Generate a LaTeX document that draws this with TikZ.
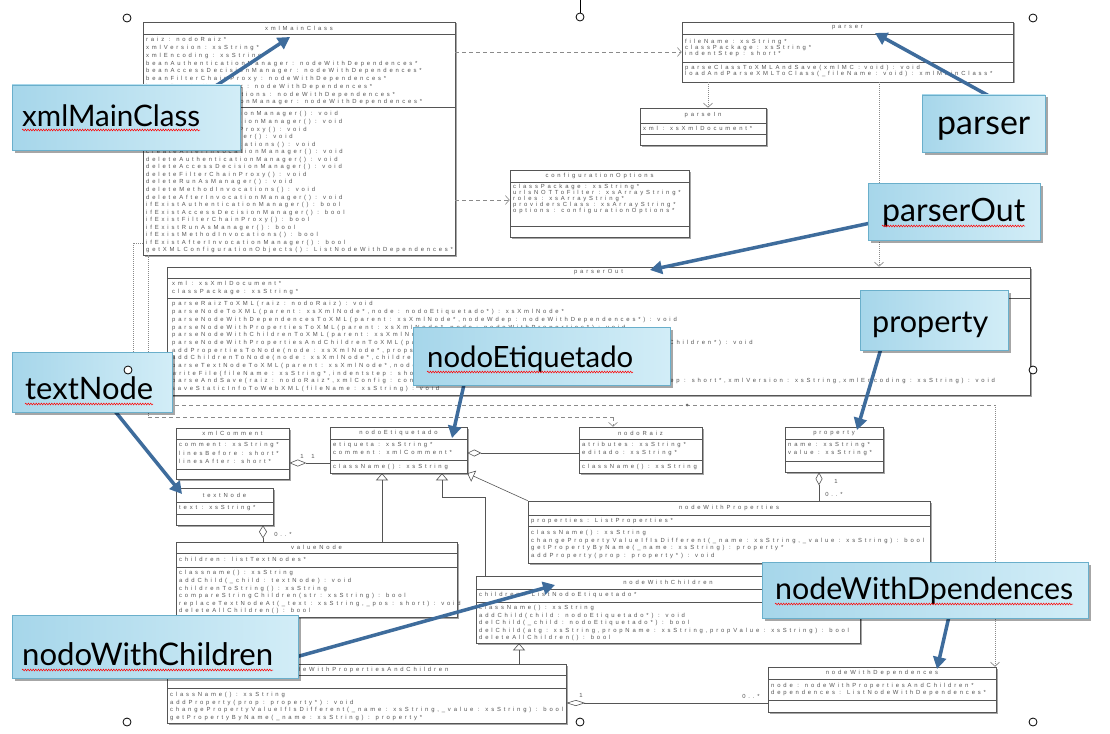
\documentclass[tikz,border=0pt]{standalone}
\usepackage{fontspec}
\usepackage{graphicx}
\newfontfamily\umlfamily[LetterSpace=48]{Liberation Sans}
\newfontfamily\callfamily{Lato}
\usetikzlibrary{arrows.meta,fit,shadows,decorations.pathmorphing,calc}
\definecolor{umlline}{HTML}{555555}
\definecolor{umltext}{HTML}{555555}
\definecolor{dep}{HTML}{8A8A8A}
\definecolor{callL}{HTML}{A6D6EA}
\definecolor{callR}{HTML}{D2EDF7}
\definecolor{callB}{HTML}{6AAFCB}
\definecolor{arr}{HTML}{3E6C9C}
\newcommand{\umlf}[1]{\umlfamily\fontsize{5.9}{#1}\selectfont}
% #1 name, #2 x1, #3 y1, #4 x2, #5 y2, #6 title, #7 title line y, #8 separator y
\newcommand{\umlclass}[8]{%
  \fill[clsshadow] (#2+1.5,#3+1.5) rectangle (#4+1.5,#5+1.5);
  \node[clsbox, fit={(#2,#3) (#4,#5)}] (#1) {};
  \draw[sepline] (#2,#7) -- (#4,#7);
  \draw[sepline] (#2,#8) -- (#4,#8);
  \node[ttl] at ({(#2+#4)/2},{(#3+#7)/2}) {#6};
}
\begin{document}
\begin{tikzpicture}[x=1pt,y=-1pt,
  clsbox/.style={draw=umlline, line width=0.6pt, inner sep=0pt, fill=white},
  clsshadow/.style={fill=black!35},
  sepline/.style={draw=umlline, line width=0.5pt},
  ttl/.style={font=\umlf{7}, text=umltext, inner sep=0pt},
  mem/.style={font=\umlf{7.5}, text=umltext, inner sep=0pt, align=left, anchor=north west},
  lab/.style={font=\umlf{6}, text=umltext, inner sep=0pt},
  deparrow/.style={draw=dep, line width=0.6pt, dash pattern=on 4pt off 3pt, -{Straight Barb[length=4pt,width=9pt]}},
  dashln/.style={draw=dep, line width=0.6pt, dash pattern=on 4pt off 3pt},
  dotln/.style={draw=dep, line width=0.7pt, dash pattern=on 1pt off 1pt},
  dotarrow/.style={dotln, -{Straight Barb[length=4pt,width=9pt]}},
  assoc/.style={draw=umlline, line width=0.6pt},
  gen/.style={draw=umlline, line width=0.6pt, -{Triangle[open,length=7pt,width=12pt]}},
  calarrow/.style={draw=arr, line width=3.5pt, -{Triangle[length=12pt,width=13pt]}},
  callout/.style={draw=callB, line width=0.6pt, left color=callL, right color=callR, inner sep=0pt,
    drop shadow={shadow xshift=2.5pt, shadow yshift=-2.5pt, opacity=0.35, fill=black}},
  calltext/.style={font=\callfamily, text=black, inner sep=0pt, anchor=base west},
  squig/.style={draw=red, line width=0.5pt, decorate, decoration={snake, amplitude=0.9pt, segment length=2.6pt}},
  handle/.style={draw=black, fill=white, line width=0.8pt}
]
\useasboundingbox (0,0) rectangle (1110,733);
\fill[white] (0,0) rectangle (1110,733);

% ---------------- classes ----------------
\umlclass{xmlmain}{143}{22}{455}{255}{xmlMainClass}{34}{107}
\node[mem, font=\umlf{7.75}] at (146,37.5) {raiz : nodoRaiz*\\xmlVersion : xsString*\\xmlEncoding : xsString*\\beanAuthenticationManager : nodeWithDependences*\\beanAccessDecisionManager : nodeWithDependences*\\beanFilterChainProxy : nodeWithDependences*\\beanRunAsManager : nodeWithDependences*\\beanMethodInvocations : nodeWithDependences*\\beanAfterInvocationManager : nodeWithDependences*};
\node[mem, font=\umlf{7.55}] at (146,111.5) {createAuthenticationManager() : void\\createAccessDecisionManager() : void\\createFilterChainProxy() : void\\createRunAsManager() : void\\createMethodInvocations() : void\\createAfterInvocationManager() : void\\deleteAuthenticationManager() : void\\deleteAccessDecisionManager() : void\\deleteFilterChainProxy() : void\\deleteRunAsManager() : void\\deleteMethodInvocations() : void\\deleteAfterInvocationManager() : void\\ifExistAuthenticationManager() : bool\\ifExistAccessDecisionManager() : bool\\ifExistFilterChainProxy() : bool\\ifExistRunAsManager() : bool\\ifExistMethodInvocations() : bool\\ifExistAfterInvocationManager() : bool\\getXMLConfigurationObjects() : ListNodeWithDependences*};

\umlclass{parser}{682}{22}{1013}{82}{parser}{34}{62}
\node[mem, font=\umlf{6}] at (685,39.2) {fileName : xsString*\\classPackage : xsString*\\indentStep : short*};
\node[mem, font=\umlf{6}] at (685,65.5) {parseClassToXMLAndSave(xmlMC : void) : void\\loadAndParseXMLToClass(\_fileName : void) : xmlMainClass*};

\umlclass{parsein}{640}{108}{766}{145}{parseIn}{123}{134}
\node[mem] at (643,126) {xml : xsXmlDocument*};

\umlclass{confopt}{510}{170}{689}{237}{configurationOptions}{182}{226}
\node[mem, font=\umlf{5.8}] at (513,184.5) {classPackage : xsString*\\urlsNOTToFilter : xsArrayString*\\roles : xsArrayString*\\providersClass : xsArrayString*\\options : configurationOptions*};

\umlclass{parserout}{167}{267}{1030}{395}{parserOut}{278}{298}
\node[mem, font=\umlf{7.8}] at (172,281.5) {xml : xsXmlDocument*\\classPackage : xsString*};
\begin{scope}
\clip (168,298) rectangle (1029,394);
\node[mem, font=\umlf{7.7}] at (172,301.5) {parseRaizToXML(raiz : nodoRaiz) : void\\parseNodeToXML(parent : xsXmlNode*,node : nodoEtiquetado*) : xsXmlNode*\\parseNodeWithDependencesToXML(parent : xsXmlNode*,nodeWdep : nodeWithDependences*) : void\\parseNodeWithPropertiesToXML(parent : xsXmlNode*,node : nodeWithProperties*) : void\\parseNodeWithChildrenToXML(parent : xsXmlNode*,node : nodeWithChildren*) : void\\parseNodeWithPropertiesAndChildrenToXML(parent : xsXmlNode*,node : nodeWithPropertiesAndChildren*) : void\\addPropertiesToNode(node : xsXmlNode*,props : ListProperties*) : void\\addChildrenToNode(node : xsXmlNode*,children : ListNodoEtiquetado*) : void\\parseTextNodeToXML(parent : xsXmlNode*,node : textNode*) : void\\writeFile(fileName : xsString*,indentstep : short*) : void\\parseAndSave(raiz : nodoRaiz*,xmlConfig : configurationOptions*,fileName : xsString*,indentstep : short*,xmlVersion : xsString,xmlEncoding : xsString) : void\\saveStaticInfoToWebXML(fileName : xsString) : void};
\end{scope}

\umlclass{xmlcomment}{176}{428}{289}{479}{xmlComment}{439}{469}
\node[mem, font=\umlf{8.3}] at (179,442.5) {comment : xsString*\\linesBefore : short*\\linesAfter : short*};

\umlclass{textnode}{176}{488}{273}{525}{textNode}{502}{514}
\node[mem] at (179,505.5) {text : xsString*};

\umlclass{nodoetiq}{330}{427}{467}{473}{nodoEtiquetado}{439}{460}
\node[mem, font=\umlf{8}] at (333,442.5) {etiqueta : xsString*\\comment : xmlComment*};
\node[mem] at (333,464.5) {className() : xsString};

\umlclass{valuenode}{176}{542}{457}{617}{valueNode}{553}{567}
\node[mem] at (179,557.5) {children : listTextNodes*};
\node[mem, font=\umlf{7.6}] at (179,570.5) {classname() : xsString\\addChild(\_child : textNode) : void\\childrenToString() : xsString\\compareStringChildren(str : xsString) : bool\\replaceTextNodeAt(\_text : xsString,\_pos : short) : void\\deleteAllChildren() : bool};

\umlclass{nodoraiz}{579}{427}{702}{473}{nodoRaiz}{439}{460}
\node[mem, font=\umlf{8}] at (582,442.5) {atributes : xsString*\\editado : xsString*};
\node[mem] at (582,464.5) {className() : xsString};

\umlclass{property}{785}{427}{883}{472}{property}{439}{461}
\node[mem, font=\umlf{8}] at (788,442.5) {name : xsString*\\value : xsString*};

\umlclass{nodewprop}{528}{501}{930}{563}{nodeWithProperties}{515}{526}
\node[mem] at (531,518.5) {properties : ListProperties*};
\node[mem, font=\umlf{7.4}] at (531,530.5) {className() : xsString\\changePropertyValueIfIsDifferent(\_name : xsString,\_value : xsString) : bool\\getPropertyByName(\_name : xsString) : property*\\addProperty(prop : property*) : void};

\umlclass{nodewchild}{476}{576}{860}{643}{nodeWithChildren}{589}{602}
\node[mem] at (479,592.5) {children : ListNodoEtiquetado*};
\node[mem, font=\umlf{7.5}] at (479,605.5) {className() : xsString\\addChild(child : nodoEtiquetado*) : void\\delChild(\_child : nodoEtiquetado*) : bool\\delChild(atg : xsString,propName : xsString,propValue : xsString) : bool\\deleteAllChildren() : bool};

\umlclass{nodewpac}{167}{664}{566}{723}{nodeWithPropertiesAndChildren}{675}{688}
\node[mem, font=\umlf{7.4}] at (170,692.5) {className() : xsString\\addProperty(prop : property*) : void\\changePropertyValueIfIsDifferent(\_name : xsString,\_value : xsString) : bool\\getPropertyByName(\_name : xsString) : property*};

\umlclass{nodewdep}{768}{667}{996}{712}{nodeWithDependences}{679}{700}
\node[mem, font=\umlf{7}] at (771,683.5) {node : nodeWithPropertiesAndChildren*\\dependences : ListNodeWithDependences*};

% ---------------- UML connectors ----------------
\draw[deparrow] (xmlmain.east |- 0,52) -- (parser.west |- 0,52);
\draw[deparrow] (xmlmain.east |- 0,200) -- (confopt.west |- 0,200);
\draw[dotarrow] (parser.south -| 708,0) -- (parsein.north -| 708,0);
\draw[dotarrow] (parser.south -| 879,0) -- (parserout.north -| 879,0);

\coordinate (la) at (133,243);
\coordinate (lb) at (133,405);
\coordinate (lc) at (995,405);
\draw[dotln] (xmlmain.west |- la) -- (la) -- (lb);
\draw[dashln] (lb) -- (lc);
\draw[dotarrow] (lc) -- (nodewdep.north -| lc);
\fill[dep!80!black] (687,405) circle (1.5pt);

\coordinate (ld) at (148,417);
\coordinate (le) at (613,417);
\draw[dotln] (xmlmain.south -| ld) -- (ld);
\draw[dashln] (ld) -- (le);
\draw[deparrow] (le) -- (nodoraiz.north -| le);

\draw[assoc, {Diamond[open,length=17pt,width=7pt]}-] (xmlcomment.east |- 0,463) -- (nodoetiq.west |- 0,463);
\node[lab] at (302,456) {1};
\node[lab] at (313,456) {1};
\draw[assoc, {Diamond[open,length=14pt,width=7pt]}-] (nodoetiq.east |- 0,453) -- (nodoraiz.west |- 0,453);
\draw[gen] (valuenode.north -| 382,0) -- (nodoetiq.south -| 382,0);
\coordinate (g1) at (485,497);
\coordinate (g2) at (442,497);
\draw[gen] (nodewchild.north -| g1) -- (g1) -- (g2) -- (nodoetiq.south -| g2);
\draw[gen] (nodewprop.north west) -- (nodoetiq.south east);
\draw[assoc, {Diamond[open,length=13pt,width=7pt]}-] (property.south -| 819,0) -- (nodewprop.north -| 819,0);
\node[lab] at (836,481) {1};
\node[lab] at (834,494) {0..*};
\draw[assoc, {Diamond[open,length=13pt,width=8pt]}-] (textnode.south -| 263,0) -- (valuenode.north -| 263,0);
\node[lab] at (283,534) {0..*};
\draw[gen] (nodewpac.north -| 519,0) -- (nodewchild.south -| 519,0);
\draw[assoc, {Diamond[open,length=19pt,width=6pt]}-] (nodewpac.east |- 0,703) -- (nodewdep.west |- 0,703);
\node[lab] at (581,695) {1};
\node[lab] at (751,696) {0..*};

% ---------------- callout arrows ----------------
\coordinate (t1) at (205,93);   \coordinate (h1) at (290,37);
\coordinate (t2) at (1000,102); \coordinate (h2) at (875,33);
\coordinate (t3) at (880,221);  \coordinate (h3) at (650,270);
\coordinate (t4) at (882,345);  \coordinate (h4) at (857,430);
\coordinate (t5) at (465,380);  \coordinate (h5) at (452,438);
\coordinate (t6) at (110,405);  \coordinate (h6) at (182,494);
\coordinate (t7) at (285,660);  \coordinate (h7) at (555,585);
\coordinate (t8) at (950,612);  \coordinate (h8) at (937,669);
\foreach \i in {1,...,8} \draw[calarrow] (t\i) -- (h\i);

% ---------------- callouts ----------------
\node[callout, fit={(12,85) (240,150)}] (cxml) {};
\node[calltext] at (22,126) {\resizebox{178pt}{!}{xmlMainClass}};
\draw[squig] (22,130) -- (200,130);

\node[callout, fit={(922,95) (1045,152)}] (cparser) {};
\node[calltext] at (937,135) {\resizebox{93pt}{!}{parser}};

\node[callout, fit={(868,183) (1040,240)}] (cparserout) {};
\node[calltext] at (882,221) {\resizebox{143pt}{!}{parserOut}};
\draw[squig] (882,226) -- (1025,226);

\node[callout, fit={(860,290) (1008,350)}] (cproperty) {};
\node[calltext] at (872,332) {\resizebox{116pt}{!}{property}};

\node[callout, fit={(413,327) (670,385)}] (cnodoetiq) {};
\node[calltext] at (427,367) {\resizebox{206pt}{!}{nodoEtiquetado}};
\draw[squig] (427,372) -- (633,372);

\node[callout, fit={(12,352) (172,412)}] (ctextnode) {};
\node[calltext] at (25,399) {\resizebox{128pt}{!}{textNode}};
\draw[squig] (25,404) -- (153,404);

\node[callout, fit={(12,615) (298,678)}] (cnodowc) {};
\node[calltext] at (22,665) {\resizebox{251pt}{!}{nodoWithChildren}};
\draw[squig] (22,670) -- (273,670);

\node[callout, fit={(762,562) (1088,618)}] (cnodewdep) {};
\node[calltext] at (775,599) {\resizebox{298pt}{!}{nodeWithDpendences}};
\draw[squig] (775,604) -- (1073,604);

% ---------------- selection handles ----------------
\draw[line width=0.8pt] (580,0) -- (580,13);
\foreach \p in {(127,18),(580,17),(1033,18),(128,370),(1033,370),(127,722),(580,722),(1033,722)}
  \draw[handle] \p circle (4pt);
\end{tikzpicture}
\end{document}
